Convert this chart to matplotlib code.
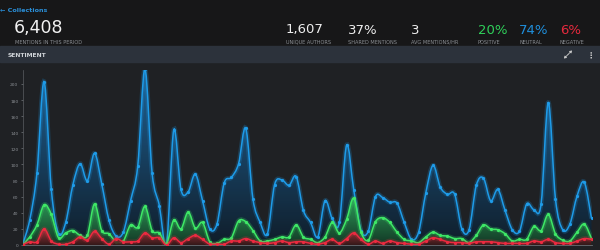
import numpy as np
import matplotlib
matplotlib.use("Agg")
import matplotlib.pyplot as plt
from matplotlib.path import Path
from matplotlib.patches import PathPatch, Rectangle
from matplotlib.colors import LinearSegmentedColormap

# values (mentions per hour)
neutral = [0, 31, 89, 203, 69, 14, 28, 75, 101, 80,
           114, 76, 31, 11, 16, 55, 98, 219, 89, 49,
           1, 143, 69, 66, 88, 55, 20, 26, 77, 84,
           101, 145, 57, 28, 14, 75, 81, 74, 85, 43,
           28, 10, 55, 33, 28, 124, 68, 18, 17, 60,
           59, 53, 52, 28, 7, 16, 65, 99, 72, 63,
           63, 20, 19, 74, 83, 55, 69, 43, 19, 17,
           51, 44, 51, 177, 57, 19, 26, 61, 78, 33]
positive = [0, 10, 25, 50, 38, 9, 15, 18, 12, 12,
            51, 18, 14, 4, 5, 25, 22, 48, 18, 15,
            2, 31, 20, 41, 21, 28, 4, 2, 7, 9,
            30, 29, 18, 5, 5, 7, 10, 10, 25, 10,
            7, 3, 10, 28, 15, 32, 58, 16, 6, 29,
            34, 28, 16, 7, 5, 3, 10, 16, 12, 11,
            8, 8, 3, 12, 25, 20, 19, 14, 5, 7,
            7, 23, 18, 38, 14, 6, 5, 16, 26, 8]
negative = [0, 4, 4, 20, 5, 1, 1, 4, 10, 6,
            17, 8, 1, 8, 4, 4, 5, 15, 9, 9,
            0, 9, 3, 8, 12, 7, 1, 1, 1, 5,
            5, 8, 5, 3, 2, 3, 5, 3, 4, 4,
            2, 1, 3, 7, 2, 8, 15, 7, 1, 5,
            2, 5, 3, 2, 1, 1, 5, 9, 7, 4,
            3, 3, 2, 4, 4, 4, 3, 2, 2, 2,
            2, 5, 4, 7, 3, 2, 2, 5, 8, 7]
yticks = list(range(0, 201, 20))

stats = [("1,607", "UNIQUE AUTHORS", 286, "#eeeeee"),
         ("37%", "SHARED MENTIONS", 348, "#eeeeee"),
         ("3", "AVG MENTIONS/HR", 411, "#eeeeee"),
         ("20%", "POSITIVE", 478, "#2fd05a"),
         ("74%", "NEUTRAL", 519, "#1f8fdc"),
         ("6%", "NEGATIVE", 560, "#e5293d")]

W, H = 600, 251


def fx(px):
    return px / W


def fy(py):
    return 1 - py / H


def smooth_path(x, y, close=False):
    n = len(x)
    verts = [(x[0], y[0])]
    codes = [Path.MOVETO]
    for i in range(n - 1):
        a = max(i - 1, 0)
        b = min(i + 2, n - 1)
        c1 = (x[i] + (x[i + 1] - x[a]) / 6, y[i] + (y[i + 1] - y[a]) / 6)
        c2 = (x[i + 1] - (x[b] - x[i]) / 6, y[i + 1] - (y[b] - y[i]) / 6)
        verts += [c1, c2, (x[i + 1], y[i + 1])]
        codes += [Path.CURVE4] * 3
    if close:
        verts += [(x[-1], 0), (x[0], 0), (x[0], 0)]
        codes += [Path.LINETO, Path.LINETO, Path.CLOSEPOLY]
    return Path(verts, codes)


fig = plt.figure(figsize=(6, 2.51), dpi=100, facecolor="#171718")

# panel background + header bar
fig.patches.append(Rectangle((0, 0), 1, fy(63), transform=fig.transFigure,
                             color="#1f2124", zorder=-5))
fig.patches.append(Rectangle((0, fy(63)), 1, 16 / H, transform=fig.transFigure,
                             color="#2c323b", zorder=-5))
fig.text(fx(8), fy(55.5), "SENTIMENT", fontsize=4.3, color="#d0d4d8",
         fontweight="bold", va="center")
# expand icon (two little diagonal arrows)
for (x0, y0, x1, y1) in [(568, 55.5, 572, 51.5), (568, 55.5, 564, 59.5)]:
    fig.add_artist(matplotlib.patches.FancyArrowPatch(
        (fx(x0), fy(y0)), (fx(x1), fy(y1)), transform=fig.transFigure,
        arrowstyle="-|>,head_length=1.2,head_width=0.8", color="#c8c8c8",
        lw=0.6, shrinkA=0, shrinkB=0))
fig.text(fx(591), fy(55.5), "\u22ee", fontsize=6, color="#c8c8c8",
         va="center", ha="center", fontweight="bold")

# top header
fig.text(fx(0), fy(10), "\u2190 Collections", fontsize=4.6, color="#2a8fd8",
         va="center", fontweight="bold")
fig.text(fx(14), fy(28), "6,408", fontsize=12.5, color="#f2f2f2", va="center")
fig.text(fx(15), fy(42), "MENTIONS IN THIS PERIOD", fontsize=3.6,
         color="#8a8e93", va="center")
for big, small, px, col in stats:
    fig.text(fx(px), fy(30), big, fontsize=9.5, color=col, va="center")
    fig.text(fx(px), fy(42), small, fontsize=3.6, color="#8a8e93", va="center")

ax = fig.add_axes([fx(22.5), 5 / H, (591.5 - 22.5) / W, (246 - 70.5) / H])
ax.set_facecolor("none")
x = np.arange(len(neutral))

series = [(neutral, "#1e9be8", LinearSegmentedColormap.from_list(
               "b", ["#0f1e2c", "#1f6aa2"]), 0.9),
          (positive, "#3ee866", LinearSegmentedColormap.from_list(
               "g", ["#143c24", "#32b25e"]), 0.85),
          (negative, "#ec2a40", LinearSegmentedColormap.from_list(
               "r", ["#3a1418", "#c0323e"]), 0.85)]

for k, (vals, col, cmap, alpha) in enumerate(series):
    v = np.asarray(vals, dtype=float)
    z = 2 + k * 3
    fill = PathPatch(smooth_path(x, v, close=True), facecolor="none",
                     edgecolor="none", transform=ax.transData)
    ax.add_patch(fill)
    grad = np.linspace(0, 1, 256).reshape(-1, 1)
    im = ax.imshow(grad, extent=[0, len(v) - 1, 0, v.max()], origin="lower",
                   aspect="auto", cmap=cmap, alpha=alpha, zorder=z)
    im.set_clip_path(fill)
    line = smooth_path(x, v)
    ax.add_patch(PathPatch(line, facecolor="none", edgecolor=col, lw=3.4,
                           alpha=0.22, zorder=z + 1))
    ax.add_patch(PathPatch(line, facecolor="none", edgecolor=col, lw=1.1,
                           zorder=z + 1.5))
    ax.plot(x, v, "o", ms=1.3, color=col, zorder=z + 2)

ax.set_xlim(0, len(neutral) - 1)
ax.set_ylim(0, 218)
ax.set_yticks(yticks)
ax.set_xticks([])
ax.tick_params(axis="y", labelsize=3.2, colors="#8a8e93", length=1.5,
               width=0.4, pad=1.5)
for s in ["top", "right"]:
    ax.spines[s].set_visible(False)
ax.spines["left"].set_color("#5a5e63")
ax.spines["left"].set_linewidth(0.5)
ax.spines["bottom"].set_color("#6a6e73")
ax.spines["bottom"].set_linewidth(0.6)

fig.savefig("out.png", dpi=100, facecolor=fig.get_facecolor())
